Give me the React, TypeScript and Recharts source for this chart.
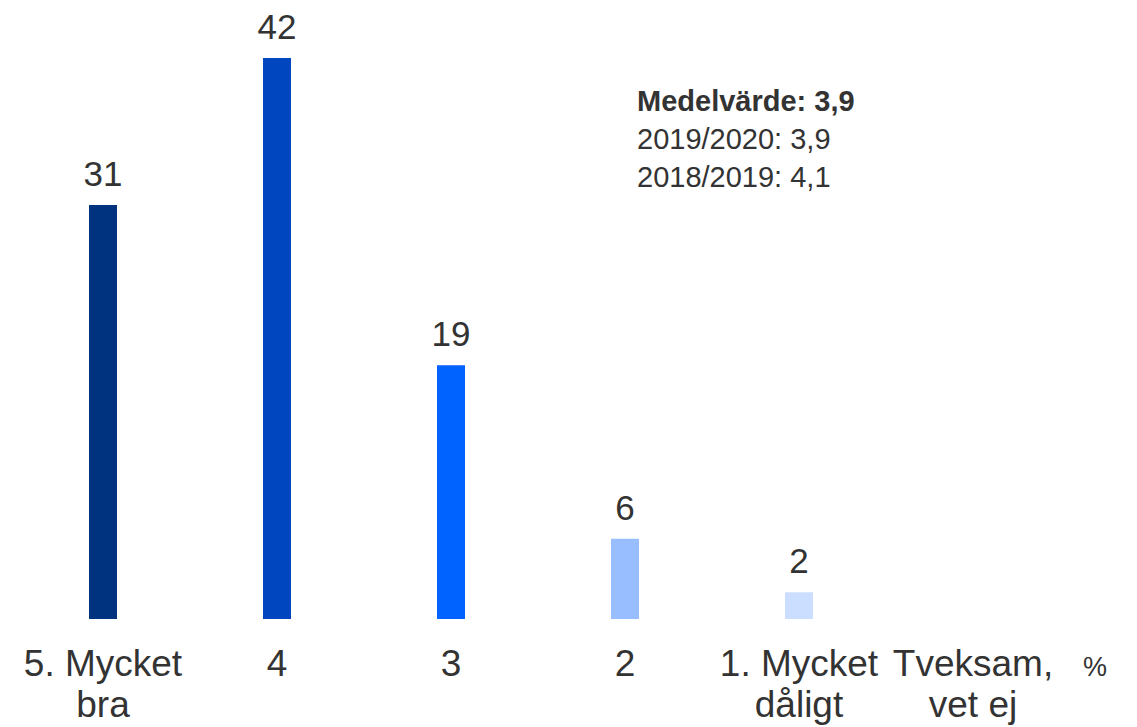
import React from "react";
import { BarChart, Bar, XAxis, YAxis, Cell, LabelList } from "recharts";

const categories = ["5. Mycket\nbra", "4", "3", "2", "1. Mycket\ndåligt", "Tveksam,\nvet ej"];
const values: (number | null)[] = [31, 42, 19, 6, 2, null];
const colors = ["#00337F", "#0047BF", "#0062FF", "#99BEFF", "#CCDEFF", "#CCDEFF"];
const legendTitle = "Medelvärde: 3,9";
const legendLines = ["2019/2020: 3,9", "2018/2019: 4,1"];
const unitLabel = "%";

const data = categories.map((name, i) => ({ name, value: values[i] }));

const FONT = "Arial, 'Liberation Sans', sans-serif";

const Tick = (props: any) => {
  const { x, y, payload } = props;
  const lines = String(payload.value).split("\n");
  return (
    <text x={x} y={y} textAnchor="middle" fill="#333333" fontSize={37} fontFamily={FONT}>
      {lines.map((l, i) => (
        <tspan key={i} x={x} dy={i === 0 ? 49 : 41}>
          {l}
        </tspan>
      ))}
    </text>
  );
};

const ValueLabel = (props: any) => {
  const { x, y, width, value } = props;
  if (value === null || value === undefined) return null;
  return (
    <text x={x + width / 2} y={y - 19} textAnchor="middle" fill="#333333" fontSize={35} fontFamily={FONT}>
      {value}
    </text>
  );
};

export default function App() {
  return (
    <div style={{ position: "absolute", left: 0, top: 0, width: 1137, height: 727, background: "#fff" }}>
      <BarChart width={1137} height={727} data={data} margin={{ top: 18, right: 77, left: 16, bottom: 0 }}>
        <XAxis dataKey="name" height={108} axisLine={false} tickLine={false} interval={0} tick={<Tick />} />
        <YAxis hide domain={[0, 45]} />
        <Bar dataKey="value" barSize={28} isAnimationActive={false}>
          {data.map((_, i) => (
            <Cell key={i} fill={colors[i]} />
          ))}
          <LabelList dataKey="value" content={<ValueLabel />} />
        </Bar>
      </BarChart>
      <div
        style={{
          position: "absolute",
          left: 637,
          top: 82,
          fontFamily: FONT,
          fontSize: 29,
          lineHeight: "38px",
          color: "#333333",
          whiteSpace: "nowrap",
        }}
      >
        <div style={{ fontWeight: "bold" }}>{legendTitle}</div>
        {legendLines.map((l, i) => (
          <div key={i}>{l}</div>
        ))}
      </div>
      <div
        style={{
          position: "absolute",
          left: 1083,
          top: 652,
          fontFamily: FONT,
          fontSize: 27,
          color: "#333333",
        }}
      >
        {unitLabel}
      </div>
    </div>
  );
}
